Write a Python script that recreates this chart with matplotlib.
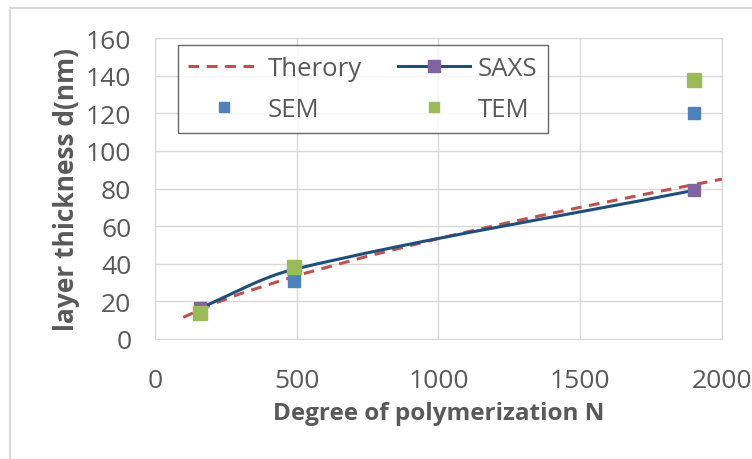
import numpy as np
import matplotlib
matplotlib.use("Agg")
import matplotlib.pyplot as plt
from matplotlib.path import Path
from matplotlib.patches import PathPatch, Rectangle
from matplotlib.lines import Line2D

plt.rcParams['font.family'] = ['Open Sans', 'DejaVu Sans']

# data
theory_n = [100, 200, 300, 500, 750, 1000, 1250, 1500, 1750, 2000]
theory_d = [11.5, 18.3, 24.0, 33.7, 44.0, 53.4, 62.0, 70.0, 77.6, 85.0]

saxs_n = [160, 490, 1900]
saxs_d = [16.5, 37.0, 79.0]

sem_n = [160, 490, 1900]
sem_d = [14.0, 31.0, 120.0]

tem_n = [160, 490, 1900]
tem_d = [14.0, 38.0, 137.5]

grey = '#595959'
red = '#C0504D'
navy = '#1F4E79'
purple = '#8064A2'
blue = '#4F81BD'
green = '#9BBB59'


def smooth_path(xs, ys, sx, sy):
    # excel style smoothed line, worked out in screen-like units
    pts = np.column_stack([np.array(xs) * sx, np.array(ys) * sy]).astype(float)
    n = len(pts)
    tang = []
    for i in range(n):
        a = pts[max(i - 1, 0)]
        b = pts[min(i + 1, n - 1)]
        d = b - a
        tang.append(d / np.hypot(*d))
    verts = [pts[0]]
    codes = [Path.MOVETO]
    for i in range(n - 1):
        L = np.hypot(*(pts[i + 1] - pts[i])) / 3
        verts += [pts[i] + tang[i] * L, pts[i + 1] - tang[i + 1] * L, pts[i + 1]]
        codes += [Path.CURVE4] * 3
    verts = np.array(verts) / [sx, sy]
    return Path(verts, codes)


fig = plt.figure(figsize=(7.52, 4.6), dpi=100)
ax = fig.add_axes([0.206, 0.261, 0.754, 0.654])

ax.set_xlim(0, 2000)
ax.set_ylim(0, 160)

ax.plot(theory_n, theory_d, color=red, lw=2.2, ls=(0, (3.5, 2.5)), zorder=3)
ax.add_patch(PathPatch(smooth_path(saxs_n, saxs_d, 567 / 2000, 301 / 160),
                       fill=False, edgecolor=navy, lw=2.2, zorder=4))
ax.plot(saxs_n, saxs_d, ls='none', marker='s', ms=8, color=purple, zorder=5)
ax.plot(sem_n, sem_d, ls='none', marker='s', ms=8, color=blue, zorder=6)
ax.plot(tem_n, tem_d, ls='none', marker='s', ms=10, color=green, zorder=7)

ax.set_xticks(np.arange(0, 2001, 500))
ax.set_yticks(np.arange(0, 161, 20))
ax.grid(True, color='#D9D9D9', lw=1)
ax.set_axisbelow(True)
for s in ax.spines.values():
    s.set_color('#D9D9D9')
ax.tick_params(length=0, labelsize=19, colors=grey)
ax.tick_params(axis='y', pad=17)
ax.tick_params(axis='x', pad=21)

ax.set_xlabel('Degree of polymerization N', fontsize=17.5, fontweight='bold',
              color=grey, labelpad=6)
ax.set_ylabel('layer thickness d(nm)', fontsize=19, fontweight='bold',
              color=grey, labelpad=4)

handles = [
    Line2D([], [], color=red, lw=2.2, ls=(0, (3.5, 2.5))),
    Line2D([], [], color=navy, lw=2.2, marker='s', ms=8, mfc=purple, mec=purple),
    Line2D([], [], ls='none', marker='s', ms=7, color=blue),
    Line2D([], [], ls='none', marker='s', ms=7, color=green),
]
labels = ['Therory', 'SAXS', 'SEM', 'TEM']
leg = ax.legend([handles[0], handles[2], handles[1], handles[3]],
                [labels[0], labels[2], labels[1], labels[3]],
                ncol=2, loc='upper left', bbox_to_anchor=(0.04, 0.727, 0.653, 0.25),
                mode='expand', borderaxespad=0,
                fontsize=18.5, frameon=True, fancybox=False, edgecolor='#404040',
                handlelength=2.8, handletextpad=0.3, columnspacing=1.4,
                labelspacing=0.62, borderpad=0.42)
leg.get_frame().set_linewidth(1.0)
for t in leg.get_texts():
    t.set_color(grey)

fig.patches.append(Rectangle((10 / 752, -0.05), 1.0, 1 - 9 / 460 + 0.05,
                             transform=fig.transFigure, fill=False,
                             edgecolor='#D9D9D9', lw=1.5))

fig.savefig('out.png', dpi=100)
